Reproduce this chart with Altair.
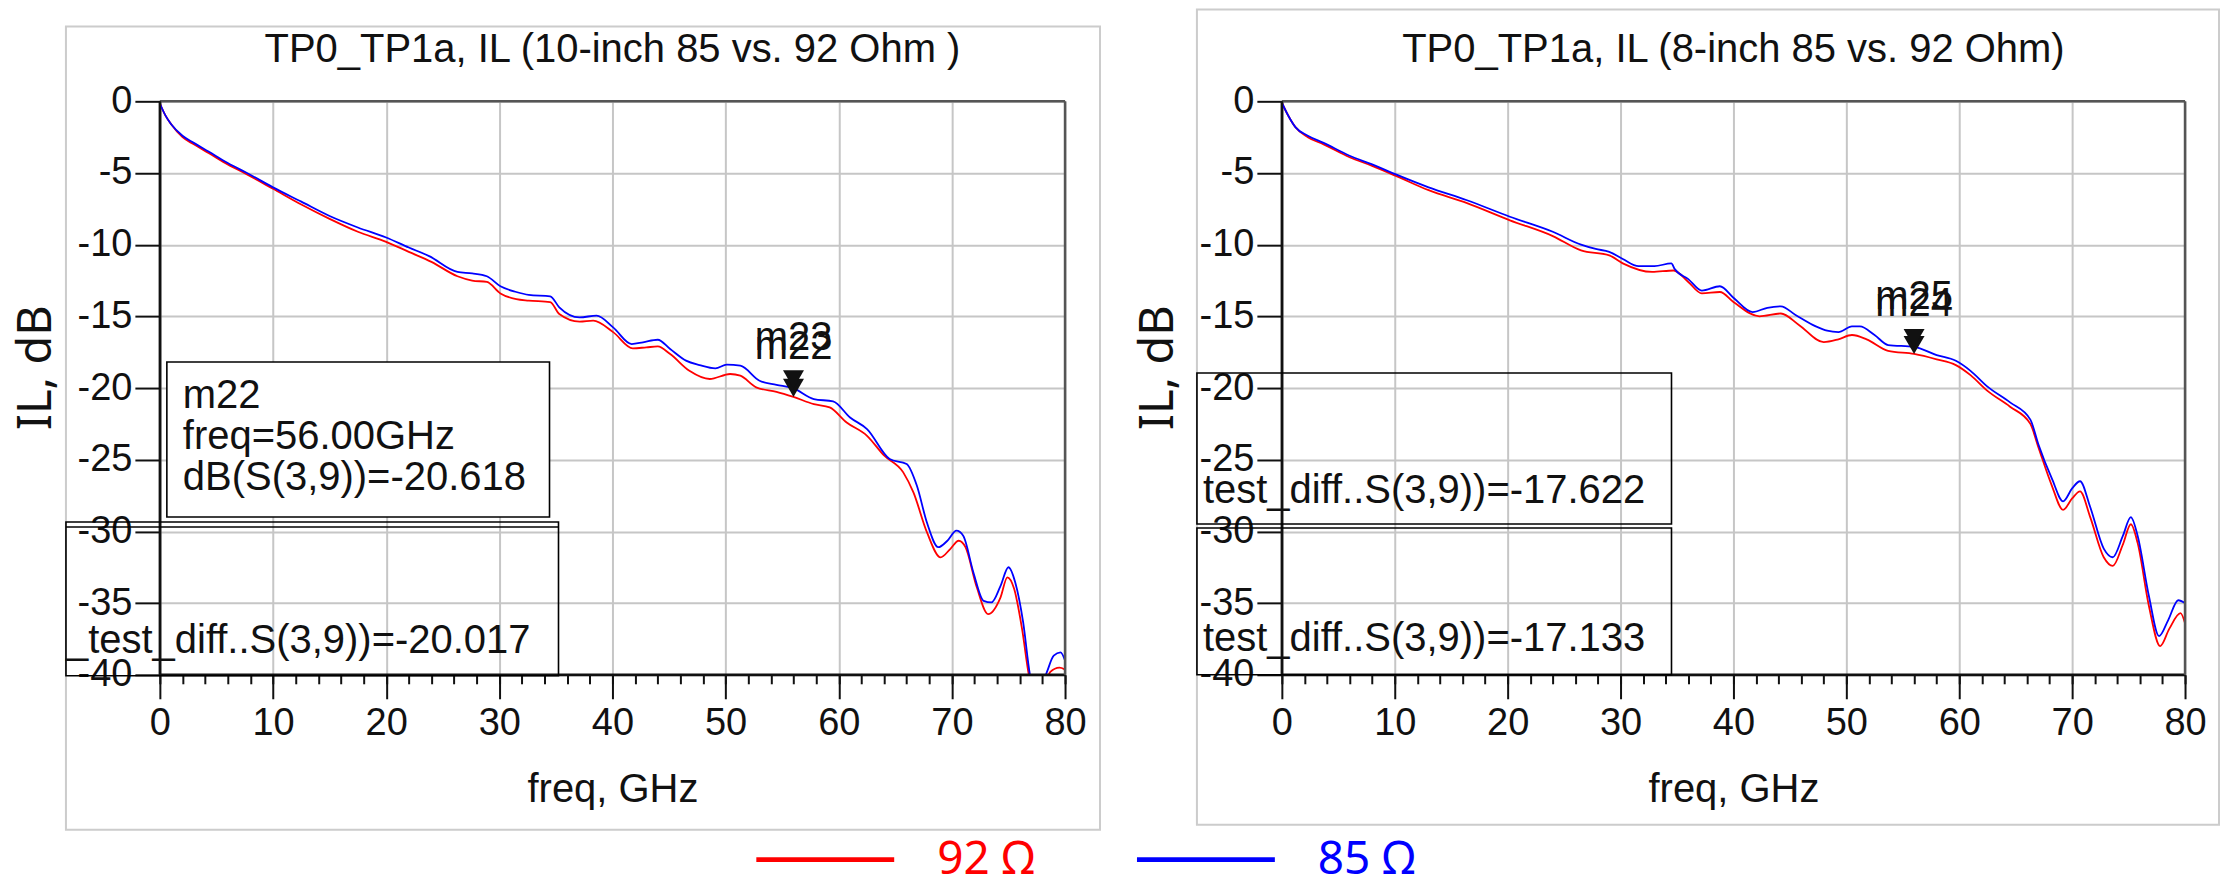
import altair as alt
import pandas as pd

# ---------------- data ----------------
series_names = ["92 Ω", "85 Ω"]
series_colors = ["#ff0000", "#0000ff"]

titles = ["TP0_TP1a, IL (10-inch 85 vs. 92 Ohm )", "TP0_TP1a, IL (8-inch 85 vs. 92 Ohm)"]
x_title = "freq, GHz"
y_title = "IL, dB"
x_ticks = [0, 10, 20, 30, 40, 50, 60, 70, 80]
x_minor_ticks = [0, 2, 4, 6, 8, 10, 12, 14, 16, 18, 20, 22, 24, 26, 28, 30, 32, 34, 36, 38, 40,
                 42, 44, 46, 48, 50, 52, 54, 56, 58, 60, 62, 64, 66, 68, 70, 72, 74, 76, 78, 80]
y_ticks = [0, -5, -10, -15, -20, -25, -30, -35, -40]

# left panel (10-inch)
left92_freq = [0, 0.5, 1, 2, 3, 4.3, 6, 7.7, 10, 12.5, 15, 17.5, 20, 22, 24, 26.3, 27.6, 28.9, 30.1, 31.5,
               32.6, 34.5, 35.3, 37.1, 38.3, 40.06, 41.8, 43.0, 44.0, 45.1, 46.8, 48.6, 50.4, 51.3, 52.7,
               54.5, 56.0, 57.8, 59.2, 60.7, 62.5, 64.0, 65.7, 66.6, 67.8, 69.0, 69.85, 70.6, 71.2, 72.2,
               73.2, 74.3, 74.9, 75.5, 76.2, 76.8, 77.6, 78.7, 79.5, 79.9, 80.0]
left92_db = [-0.15, -1.0, -1.6, -2.5, -3.0, -3.6, -4.4, -5.1, -6.1, -7.2, -8.2, -9.1, -9.8, -10.5, -11.2,
             -12.2, -12.5, -12.6, -13.4, -13.8, -13.9, -14.0, -14.84, -15.37, -15.3, -16.1, -17.23, -17.16,
             -17.1, -17.63, -18.8, -19.37, -19.02, -19.14, -19.95, -20.26, -20.62, -21.12, -21.35, -22.4,
             -23.33, -24.7, -25.88, -27.28, -30.07, -31.81, -31.23, -30.65, -31.1, -33.9, -35.77, -34.6,
             -33.2, -34.0, -36.8, -40.0, -42.0, -39.8, -39.5, -39.6, -39.7]
left85_freq = [0, 0.5, 1, 2, 3, 4.3, 6, 7.7, 10, 12.5, 15, 17.5, 20, 22, 23.8, 26.3, 27.6, 28.9, 30.1, 31.5,
               32.6, 34.5, 35.3, 37.1, 38.6, 40.06, 41.7, 42.7, 44.0, 45.1, 46.5, 47.7, 49.1, 50.1, 51.3,
               53.0, 54.5, 56.0, 57.8, 59.5, 61.0, 62.5, 64.5, 66.0, 66.9, 67.8, 68.8, 69.6, 70.4, 71.0,
               71.9, 72.8, 73.5, 74.3, 75.0, 75.6, 76.3, 76.9, 77.6, 78.4, 79.0, 79.6, 80.0]
left85_db = [-0.15, -1.0, -1.6, -2.4, -2.9, -3.5, -4.3, -5.0, -6.0, -7.0, -8.0, -8.8, -9.5, -10.2, -10.8,
             -11.9, -12.0, -12.2, -12.9, -13.3, -13.5, -13.6, -14.37, -15.07, -14.95, -15.77, -16.93,
             -16.81, -16.63, -17.28, -18.09, -18.4, -18.63, -18.37, -18.44, -19.49, -19.77, -20.02, -20.77,
             -20.93, -22.05, -22.86, -24.95, -25.3, -26.8, -29.4, -31.1, -30.65, -29.95, -30.3, -32.86,
             -34.84, -34.95, -33.8, -32.5, -33.56, -36.35, -40.0, -41.5, -39.8, -38.67, -38.44, -39.0]

# right panel (8-inch)
right92_freq = [0, 0.5, 1.2, 2.3, 3.7, 6, 8, 10.1, 13, 16.4, 20.2, 24.0, 26.5, 29.0, 30.2, 32.8, 34.7, 36.0,
                37.2, 38.8, 40.0, 42.3, 44.2, 45.8, 48.0, 49.3, 50.5, 51.8, 53.7, 56.0, 58.0, 59.7, 61.0,
                62.5, 64.5, 66.3, 67.0, 68.2, 69.2, 70.0, 70.7, 71.6, 72.8, 73.6, 74.5, 75.2, 75.8, 76.8,
                77.8, 78.6, 79.6, 80.0]
right92_db = [-0.1, -0.9, -1.8, -2.5, -3.0, -3.9, -4.5, -5.2, -6.2, -7.1, -8.3, -9.4, -10.4, -10.75, -11.3,
              -11.9, -11.8, -12.6, -13.4, -13.3, -14.0, -15.0, -14.8, -15.6, -16.8, -16.6, -16.3, -16.6,
              -17.4, -17.62, -18.0, -18.4, -19.1, -20.2, -21.3, -22.5, -24.1, -26.8, -28.5, -27.7, -27.2,
              -29.0, -31.8, -32.4, -30.9, -29.5, -30.8, -35.2, -38.0, -36.8, -35.7, -36.4]
right85_freq = [0, 0.5, 1.2, 2.3, 3.7, 6, 8, 10.1, 13, 16.4, 20.2, 24.0, 26.5, 27.8, 29.0, 30.2, 31.6, 33.0,
                34.5, 34.8, 36.0, 37.2, 38.8, 40.0, 41.7, 43.0, 44.2, 45.5, 47.3, 48.3, 49.3, 50.5, 51.2,
                52.5, 53.7, 56.0, 58.0, 59.7, 61.0, 62.5, 64.5, 66.3, 67.0, 68.2, 69.2, 70.0, 70.7, 71.6,
                72.8, 73.6, 74.5, 75.2, 75.8, 76.8, 77.7, 78.5, 79.4, 80.0]
right85_db = [-0.1, -0.9, -1.8, -2.4, -2.9, -3.8, -4.4, -5.1, -6.0, -6.9, -8.05, -9.1, -10.0, -10.3, -10.5,
              -11.0, -11.5, -11.5, -11.3, -11.7, -12.4, -13.2, -12.9, -13.7, -14.7, -14.4, -14.3, -14.9,
              -15.7, -16.0, -16.1, -15.7, -15.7, -16.3, -17.0, -17.13, -17.7, -18.1, -18.8, -19.9, -21.0,
              -22.2, -23.9, -26.3, -27.9, -27.0, -26.5, -28.3, -31.2, -31.8, -30.3, -29.0, -30.3, -34.5,
              -37.3, -36.2, -34.8, -35.0]

# markers (92 Ω first, 85 Ω second)
marker_freq = 56.0
left_marker_names = ["m22", "m23"]
left_marker_db = [-20.618, -20.017]
right_marker_names = ["m24", "m25"]
right_marker_db = [-17.622, -17.133]
readout_prefix = "test_diff..S(3,9))="

# ---------------- styling ----------------
FONT = "Liberation Sans, Arial, Helvetica, sans-serif"
TFONT = "Noto Sans, Open Sans, sans-serif"
H = 574
W_LEFT, W_RIGHT = 906, 904
GAP = 217
INK = "#111111"

xs = alt.Scale(domain=[0, 80], nice=False, zero=False)
ys = alt.Scale(domain=[-40, 0], nice=False, zero=False)
col_scale = alt.Scale(domain=series_names, range=series_colors)
ONE = pd.DataFrame({"k": [0]})

Y_AXIS = alt.Axis(values=y_ticks, title=y_title, grid=True, gridColor="#c6c6c6", gridWidth=2,
                  tickSize=25, tickWidth=2, tickColor=INK, domain=True, domainColor=INK,
                  domainWidth=2, labelFont=FONT, labelFontSize=38, labelColor=INK, labelPadding=3,
                  labelFlush=False, labelOverlap=False, labelExpr="toString(datum.value)",
                  titleFont=TFONT, titleFontSize=47, titleFontWeight="normal", titleColor=INK,
                  titleAngle=270, titleAlign="center", titleBaseline="middle", titleX=-123, titleY=266)
X_AXIS = alt.Axis(values=x_ticks, title=x_title, orient="bottom", grid=True, gridColor="#c6c6c6",
                  gridWidth=2, tickSize=24, tickWidth=2, tickColor=INK, domain=True, domainColor=INK,
                  domainWidth=2, labelFont=FONT, labelFontSize=38, labelColor=INK, labelPadding=6,
                  labelFlush=False, labelOverlap=False, labelExpr="toString(datum.value)",
                  titleFont=FONT, titleFontSize=40, titleFontWeight="normal", titleColor=INK,
                  titleBaseline="alphabetic", titleY=127)
X_MINOR = alt.Axis(values=x_minor_ticks, orient="bottom", labels=False, domain=False, grid=False,
                   tickSize=9, tickWidth=2, tickColor=INK, title=None)


def yq(field="db"):
    return alt.Y(f"{field}:Q", scale=ys, axis=Y_AXIS)


def xq(field="freq", axis=None):
    if axis is None:
        return alt.X(f"{field}:Q", scale=xs, axis=None)
    return alt.X(f"{field}:Q", scale=xs, axis=axis)


def curves_df(f92, d92, f85, d85):
    return pd.concat([
        pd.DataFrame({"freq": f92, "db": d92, "series": series_names[0]}),
        pd.DataFrame({"freq": f85, "db": d85, "series": series_names[1]}),
    ], ignore_index=True)


def fixed_rect(x, x2, y, y2, fill="transparent", stroke="black", sw=1.6):
    return alt.Chart(ONE).mark_rect(fill=fill, stroke=stroke, strokeWidth=sw).encode(
        x=alt.value(x), x2=alt.value(x2), y=alt.value(y), y2=alt.value(y2))


def fixed_hline(x, x2, y, color="black", sw=1.6):
    return alt.Chart(ONE).mark_rule(color=color, strokeWidth=sw).encode(
        x=alt.value(x), x2=alt.value(x2), y=alt.value(y))


def fixed_text(s, x, y, size=40, align="left"):
    return alt.Chart(ONE).mark_text(align=align, baseline="alphabetic", font=FONT, fontSize=size,
                                    color=INK).encode(
        x=alt.value(x), y=alt.value(y), text=alt.value(s))


def panel(title, df, mk_names, mk_db, W, frame, annotations):
    frame_l = fixed_rect(*frame, stroke="#cccccc", sw=2)
    title_l = fixed_text(title, W / 2, -39, size=40, align="center")

    lines = alt.Chart(df).mark_line(clip=True, strokeWidth=1.8, interpolate="monotone").encode(
        x=xq(axis=X_AXIS), y=yq(),
        color=alt.Color("series:N", scale=col_scale, legend=None),
    )
    minor = alt.Chart(pd.DataFrame({"freq": x_minor_ticks})).mark_point(opacity=0).encode(
        x=xq(axis=X_MINOR))

    top_b = alt.Chart(pd.DataFrame({"db": [0]})).mark_rule(color="#555555", strokeWidth=2.5).encode(y=yq())
    bot_b = alt.Chart(pd.DataFrame({"db": [-40]})).mark_rule(color=INK, strokeWidth=2.5).encode(y=yq())
    right_b = alt.Chart(pd.DataFrame({"freq": [80]})).mark_rule(color="#555555", strokeWidth=2.5).encode(
        x=xq())
    left_b = alt.Chart(pd.DataFrame({"freq": [0]})).mark_rule(color=INK, strokeWidth=2.5).encode(x=xq())

    mdf = pd.DataFrame({"freq": [marker_freq, marker_freq], "db": mk_db, "name": mk_names,
                        "series": series_names})
    tri = alt.Chart(mdf).mark_point(shape="triangle-down", filled=True, color=INK, size=440,
                                    opacity=1, yOffset=-9).encode(x=xq(), y=yq())
    lab = alt.Chart(mdf).mark_text(font=FONT, fontSize=40, baseline="alphabetic", align="center", dy=-38,
                                   color=INK).encode(x=xq(), y=yq(), text="name:N")

    layers = [frame_l, title_l, lines, minor, top_b, bot_b, right_b, left_b, tri, lab] + annotations
    return alt.layer(*layers).resolve_scale(x="independent").resolve_axis(x="independent").properties(
        width=W, height=H)


# legend drawn as a layer of the left panel, below the plots
leg_df = pd.DataFrame({"series": series_names})
leg_x = alt.X("series:N", scale=alt.Scale(type="point", domain=series_names, range=[597, 978], padding=0),
              axis=None)
leg_lines = alt.Chart(leg_df).mark_point(shape="stroke", size=138 ** 2, strokeWidth=5, filled=False,
                                         opacity=1, xOffset=69).encode(
    x=leg_x, y=alt.value(759), stroke=alt.Stroke("series:N", scale=col_scale, legend=None))
leg_text = alt.Chart(leg_df).mark_text(align="left", baseline="middle", dx=181, font=TFONT,
                                       fontSize=46).encode(
    x=leg_x, y=alt.value(759), text="series:N", color=alt.Color("series:N", scale=col_scale, legend=None))

left_ann = [
    fixed_rect(7, 390, 261, 416, fill="white"),
    fixed_text(left_marker_names[0], 23, 307),
    fixed_text(f"freq={marker_freq:.2f}GHz", 23, 348),
    fixed_text(f"dB(S(3,9))={left_marker_db[0]:.3f}", 23, 389),
    fixed_rect(-94, 399, 421, 575),
    fixed_hline(-94, 399, 426),
    fixed_text("_" + readout_prefix + f"{left_marker_db[1]:.3f}", -94, 552),
    leg_lines, leg_text,
]
right_ann = [
    fixed_rect(-85, 390, 272, 423),
    fixed_rect(-85, 390, 427, 574),
    fixed_text(readout_prefix + f"{right_marker_db[0]:.3f}", -79, 402),
    fixed_text(readout_prefix + f"{right_marker_db[1]:.3f}", -79, 550),
]

left = panel(titles[0], curves_df(left92_freq, left92_db, left85_freq, left85_db),
             left_marker_names, left_marker_db, W_LEFT, (-94, 941, -75, 729), left_ann)
right = panel(titles[1], curves_df(right92_freq, right92_db, right85_freq, right85_db),
              right_marker_names, right_marker_db, W_RIGHT, (-85, 938, -92, 724), right_ann)

chart = alt.hconcat(left, right, spacing=GAP, bounds="flush").properties(
    padding={"left": 5, "top": 0, "right": 0, "bottom": 0}
).configure(background="white").configure_view(strokeOpacity=0)

chart.save("out.html", embed_options={"renderer": "svg", "actions": False})
